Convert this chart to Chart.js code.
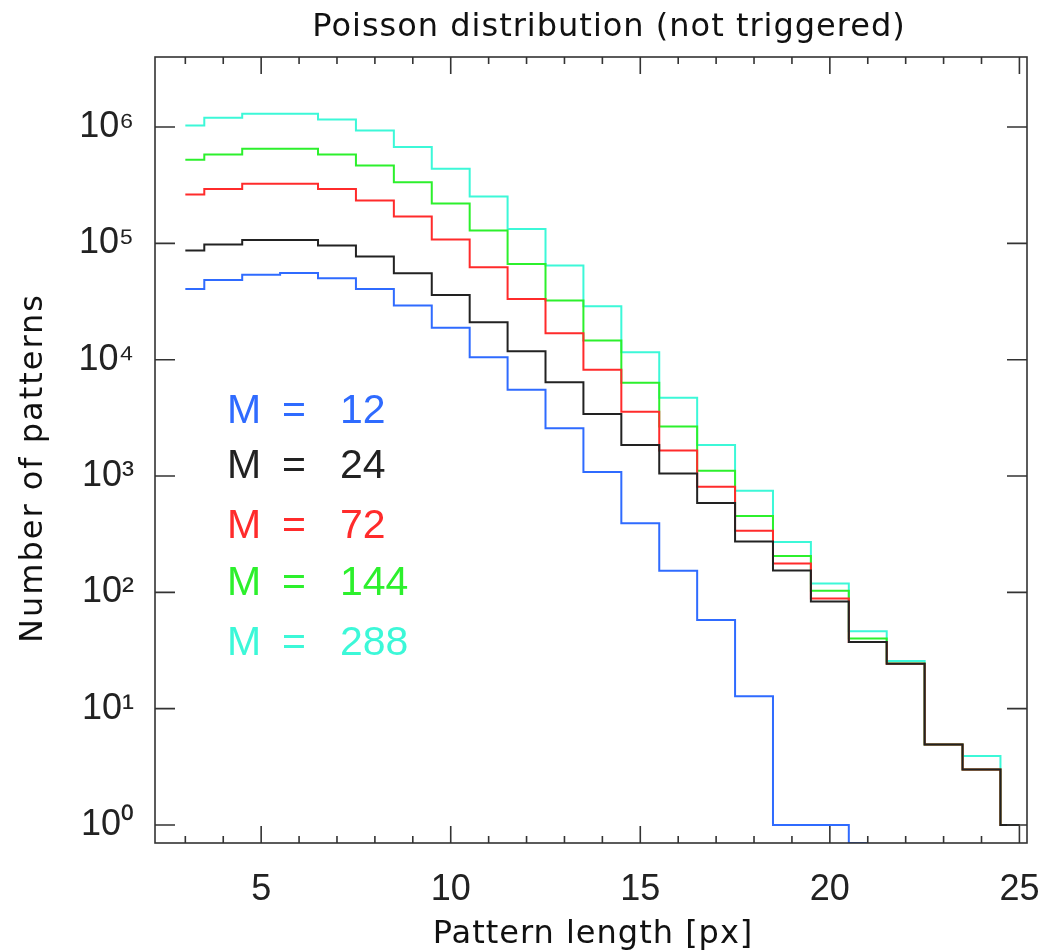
<!DOCTYPE html>
<html>
<head>
<meta charset="utf-8">
<title>Poisson distribution (not triggered)</title>
<script src="https://cdn.jsdelivr.net/npm/chart.js@4.4.1/dist/chart.umd.min.js"></script>
<style>
  html, body { margin: 0; padding: 0; background: #fff; }
  #wrap { width: 1043px; height: 951px; }
</style>
</head>
<body>
<div id="wrap"><canvas id="chart" width="1043" height="951"></canvas></div>
<script>
// pattern length [px], one bin per integer
const lengths = [3, 4, 5, 6, 7, 8, 9, 10, 11, 12, 13, 14, 15, 16, 17, 18, 19, 20, 21, 22, 23, 24, 25];

// number of patterns for each M
const m12 = [4.06e4, 4.85e4, 5.36e4, 5.57e4, 5.02e4, 4.06e4, 2.92e4, 1.88e4, 1.05e4, 5520, 2580, 1080, 393, 153, 57.9, 12.8, 1, 1, 0];
const m24 = [8.67e4, 9.77e4, 1.07e5, 1.07e5, 9.58e4, 7.70e4, 5.54e4, 3.59e4, 2.10e4, 1.18e4, 6390, 3410, 1850, 1050, 585, 274, 154, 83.4, 37.4, 24.3, 4.93, 3.0, 1];
const m72 = [2.63e5, 2.94e5, 3.25e5, 3.25e5, 2.94e5, 2.34e5, 1.70e5, 1.08e5, 6.24e4, 3.33e4, 1.69e4, 8180, 3560, 1660, 807, 338, 177, 88.6, 37.4, 24.3, 4.93, 3.0, 1];
const m144 = [5.23e5, 5.81e5, 6.50e5, 6.50e5, 5.81e5, 4.67e5, 3.36e5, 2.20e5, 1.29e5, 6.66e4, 3.22e4, 1.46e4, 6340, 2660, 1110, 454, 205, 103, 40.1, 24.5, 4.93, 3.0, 1];
const m288 = [1.03e6, 1.20e6, 1.30e6, 1.30e6, 1.16e6, 9.35e5, 6.73e5, 4.38e5, 2.53e5, 1.33e5, 6.44e4, 2.88e4, 1.16e4, 4710, 1850, 746, 271, 119, 46.3, 25.7, 4.93, 3.91, 1];

const mValues = [12, 24, 72, 144, 288];
const xLabelValues = [5, 10, 15, 20, 25];
const yTickValues = [1, 10, 100, 1000, 10000, 100000, 1000000];
const yTickLabels = ['10⁰', '10¹', '10²', '10³', '10⁴', '10⁵', '10⁶'];

const yMin = 0.7;
const yMax = 4e6;
const colors = ['#2f6bff', '#222222', '#ff2b2b', '#2cf02c', '#3cf8d8'];

// empty bins sit on the bottom of the log axis, like the original plot
function toPoints(values) {
    return values.map((v, i) => ({ x: lengths[i], y: v > 0 ? v : yMin }));
}

const series = [m12, m24, m72, m144, m288];
const drawOrder = [1, 0, 2, 3, 4];

const frame = {
    id: 'frame',
    afterDatasetsDraw(chart) {
        const { ctx, chartArea: a, scales: { x, y } } = chart;
        ctx.save();
        ctx.strokeStyle = '#333';
        ctx.lineWidth = 1.6;
        ctx.beginPath();
        x.ticks.forEach(t => {
            const px = x.getPixelForValue(t.value);
            const len = xLabelValues.includes(t.value) ? 17 : 7;
            ctx.moveTo(px, a.bottom); ctx.lineTo(px, a.bottom - len);
            ctx.moveTo(px, a.top); ctx.lineTo(px, a.top + len);
        });
        y.ticks.forEach(t => {
            const py = y.getPixelForValue(t.value);
            ctx.moveTo(a.left, py); ctx.lineTo(a.left + 20, py);
            ctx.moveTo(a.right, py); ctx.lineTo(a.right - 20, py);
        });
        ctx.stroke();
        ctx.strokeRect(a.left, a.top, a.right - a.left, a.bottom - a.top);
        ctx.restore();
    },
    afterDraw(chart) {
        const { ctx } = chart;
        ctx.save();

        // title and axis titles
        ctx.fillStyle = '#111';
        ctx.textAlign = 'center';
        ctx.textBaseline = 'alphabetic';
        ctx.font = '32px "DejaVu Sans"';
        ctx.letterSpacing = '1px';
        ctx.fillText('Poisson distribution (not triggered)', 609, 36);
        ctx.fillText('Pattern length [px]', 593, 943);

        ctx.letterSpacing = '2px';
        ctx.translate(42, 468);
        ctx.rotate(-Math.PI / 2);
        ctx.fillText('Number of patterns', 0, 0);
        ctx.setTransform(1, 0, 0, 1, 0, 0);
        ctx.letterSpacing = '0px';

        // in-plot legend
        const rows = [423, 478, 538, 595, 655];
        ctx.textAlign = 'left';
        ctx.font = '41px "Liberation Sans"';
        mValues.forEach((m, i) => {
            ctx.fillStyle = colors[i];
            ctx.fillText('M', 227, rows[i]);
            ctx.fillText('=', 282, rows[i]);
            ctx.fillText(String(m), 340, rows[i]);
        });
        ctx.restore();
    }
};

const ctx = document.getElementById('chart').getContext('2d');
new Chart(ctx, {
    type: 'line',
    data: {
        datasets: series.map((values, i) => ({
            label: 'M = ' + mValues[i],
            data: toPoints(values),
            borderColor: colors[i],
            borderWidth: 2,
            pointRadius: 0,
            fill: false,
            stepped: 'middle',
            order: drawOrder[i]
        }))
    },
    options: {
        responsive: false,
        animation: false,
        devicePixelRatio: 1,
        layout: { padding: { top: 57, right: 16, bottom: 0, left: 0 } },
        plugins: {
            legend: { display: false },
            tooltip: { enabled: false },
            title: { display: false }
        },
        scales: {
            x: {
                type: 'linear',
                min: 2.2,
                max: 25.2,
                grid: { display: false },
                border: { display: false },
                afterBuildTicks: s => { s.ticks = lengths.map(v => ({ value: v })); },
                afterFit: s => {
                    s.height = 108;
                    s.paddingLeft = 0;
                    s.paddingRight = 0;
                },
                ticks: {
                    autoSkip: false,
                    maxRotation: 0,
                    padding: 17,
                    color: '#222',
                    font: { family: 'Liberation Sans', size: 36 },
                    callback: v => xLabelValues.includes(v) ? String(v) : ''
                }
            },
            y: {
                type: 'logarithmic',
                min: yMin,
                max: yMax,
                grid: { display: false },
                border: { display: false },
                afterBuildTicks: s => { s.ticks = yTickValues.map(v => ({ value: v })); },
                afterFit: s => { s.width = 155; },
                ticks: {
                    autoSkip: false,
                    padding: 13,
                    color: '#222',
                    font: { family: 'Liberation Sans', size: 36 },
                    callback: v => {
                        const i = yTickValues.indexOf(v);
                        return i >= 0 ? yTickLabels[i] : '';
                    }
                }
            }
        }
    },
    plugins: [frame]
});
</script>
</body>
</html>
